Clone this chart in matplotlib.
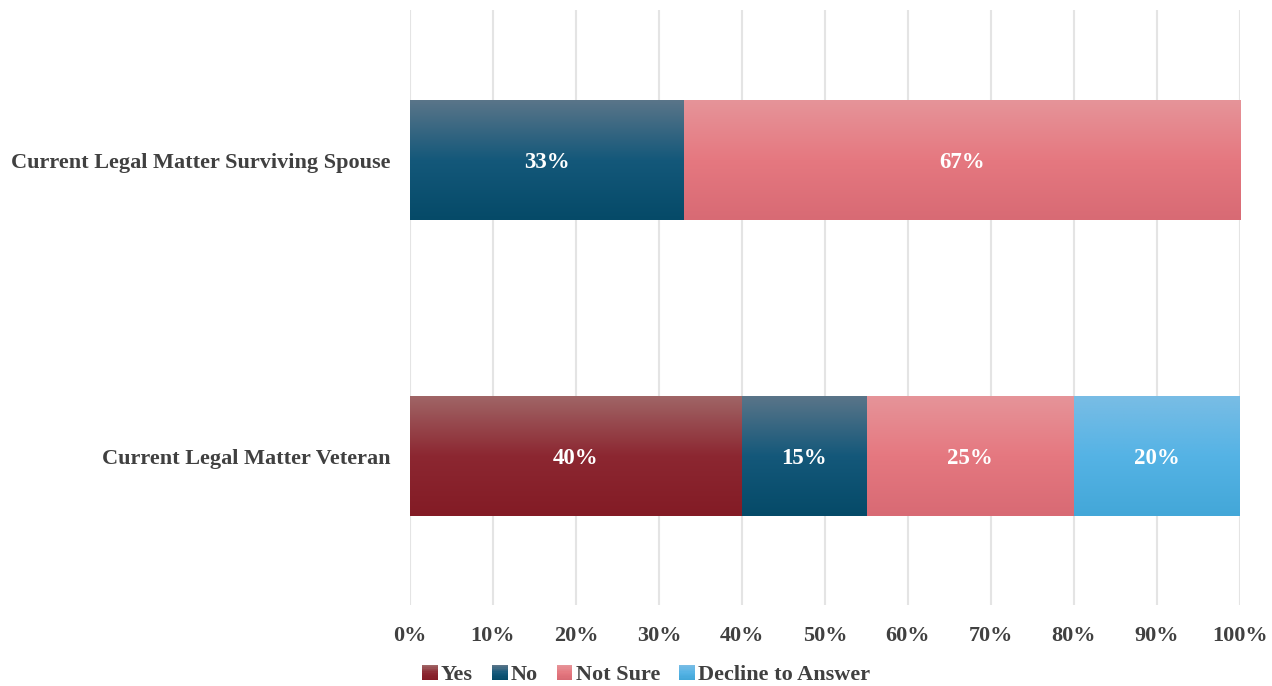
import numpy as np
import matplotlib
matplotlib.use("Agg")
import matplotlib.pyplot as plt
from matplotlib.colors import LinearSegmentedColormap
from matplotlib.legend_handler import HandlerBase
from matplotlib.patches import Rectangle

plt.rcParams['font.family'] = ['Liberation Serif', 'DejaVu Serif']
plt.rcParams['font.weight'] = 'bold'

categories = ["Current Legal Matter Veteran", "Current Legal Matter Surviving Spouse"]
series = ["Yes", "No", "Not Sure", "Decline to Answer"]
values = {
    "Yes": [40, 0],
    "No": [15, 33],
    "Not Sure": [25, 67],
    "Decline to Answer": [20, 0],
}
x_ticks = [0, 10, 20, 30, 40, 50, 60, 70, 80, 90, 100]
x_tick_labels = [f"{t}%" for t in x_ticks]

# top -> middle -> bottom shades for each series
gradients = {
    "Yes": ["#a06566", "#8c2731", "#831b25"],
    "No": ["#5a7589", "#14587a", "#054a68"],
    "Not Sure": ["#e69499", "#e57880", "#d86a74"],
    "Decline to Answer": ["#79bde5", "#55b3e5", "#43a7d8"],
}
text_color = "#404040"

fig = plt.figure(figsize=(12.72, 6.86), dpi=100)
ax = fig.add_axes([410 / 1272, 1 - 605 / 686, 830 / 1272, 595 / 686])

grad = np.linspace(0, 1, 256).reshape(-1, 1)
y = np.arange(len(categories))
left = np.zeros(len(categories))
bar_h = 0.405
for name in series:
    vals = np.array(values[name], dtype=float)
    bars = ax.barh(y, vals, left=left, height=bar_h, color="none", linewidth=0)
    cmap = LinearSegmentedColormap.from_list(name, gradients[name])
    for b, v in zip(bars, vals):
        if v <= 0:
            continue
        x0, y0, w, h = b.get_x(), b.get_y(), b.get_width(), b.get_height()
        ax.imshow(grad, cmap=cmap, aspect="auto", origin="upper",
                  extent=(x0, x0 + w, y0, y0 + h), zorder=2, interpolation="bilinear")
        ax.text(x0 + w / 2, y0 + h / 2, f"{v:.0f}%", ha="center", va="center_baseline",
                color="white", fontsize=16.5, fontweight="bold", zorder=3)
    left += vals

ax.set_xlim(0, 100)
ax.set_ylim(-0.503, 1.507)
ax.set_xticks(x_ticks)
ax.set_xticklabels(x_tick_labels)
ax.set_yticks(y)
ax.set_yticklabels(categories, va="center_baseline")
ax.tick_params(axis="both", length=0, labelsize=16, labelcolor=text_color)
ax.tick_params(axis="x", pad=15)
ax.tick_params(axis="y", pad=14)
for lab in ax.get_xticklabels() + ax.get_yticklabels():
    lab.set_fontweight("bold")
ax.xaxis.grid(True, color="#e4e4e4", linewidth=1.5)
ax.set_axisbelow(True)
for s in ax.spines.values():
    s.set_visible(False)


class GradientHandler(HandlerBase):
    def __init__(self, colors):
        super().__init__()
        self.colors = colors

    def create_artists(self, legend, orig_handle, xdescent, ydescent, width,
                       height, fontsize, trans):
        cmap = LinearSegmentedColormap.from_list("h", self.colors)
        n = 12
        side = height * 1.0
        x0 = -xdescent + width - side
        arts = []
        for i in range(n):
            r = Rectangle((x0, -ydescent + side * (n - 1 - i) / n), side, side / n,
                          facecolor=cmap(i / (n - 1)), edgecolor="none", transform=trans)
            arts.append(r)
        return arts


handles = [Rectangle((0, 0), 1, 1, label=name) for name in series]
handler_map = {h: GradientHandler(gradients[h.get_label()]) for h in handles}
fig.legend(handles=handles, labels=series, handler_map=handler_map,
           loc="center", bbox_to_anchor=(645 / 1272, 1 - 675 / 686), ncol=4,
           frameon=False, handlelength=0.8, handletextpad=0.15,
           columnspacing=0.75, labelcolor=text_color, borderpad=0.2,
           prop={"weight": "bold", "size": 16})

fig.savefig("out.png", dpi=100)
